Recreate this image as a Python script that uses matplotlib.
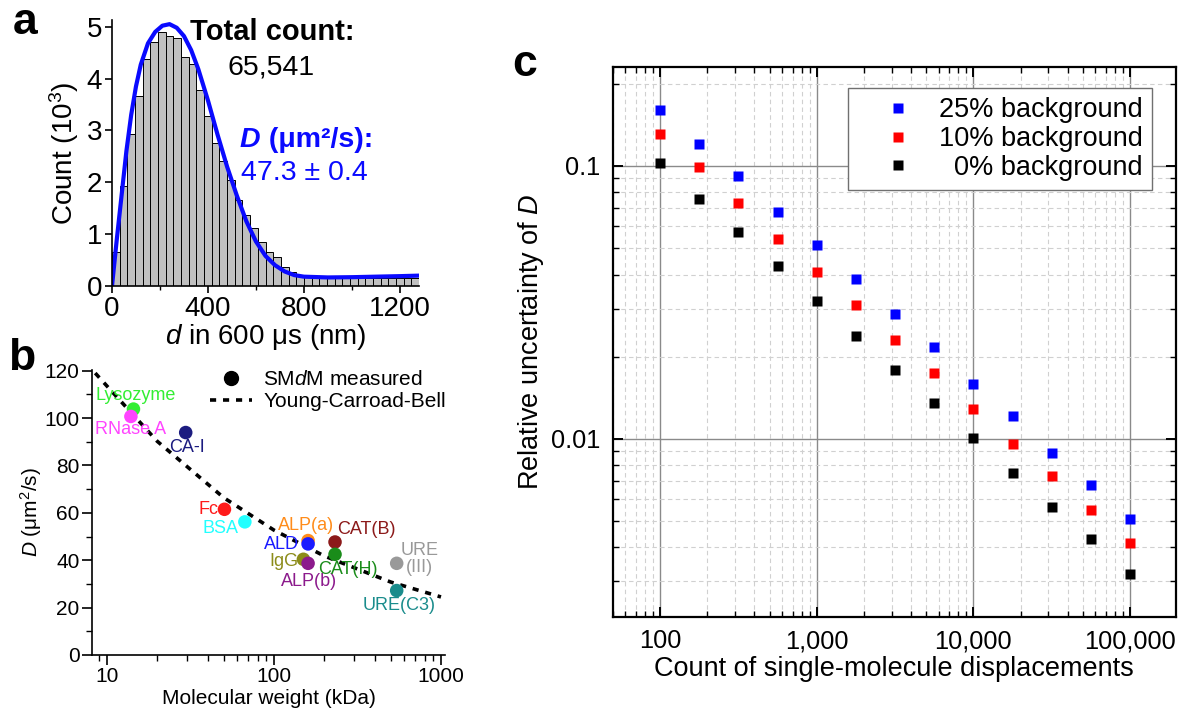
import matplotlib
matplotlib.use("Agg")
import matplotlib.pyplot as plt
from matplotlib.ticker import MultipleLocator, NullFormatter, LogLocator, FixedLocator, FixedFormatter
from matplotlib.lines import Line2D

plt.rcParams['font.family'] = ['Liberation Sans', 'DejaVu Sans']
plt.rcParams['mathtext.fontset'] = 'custom'
plt.rcParams['mathtext.rm'] = 'Liberation Sans'
plt.rcParams['mathtext.it'] = 'Liberation Sans:italic'
plt.rcParams['mathtext.bf'] = 'Liberation Sans:bold'

# ---- panel a: displacement histogram (counts in 10^3, 32 nm bins from 0) ----
bin_width = 32
hist_counts = [0.66, 1.93, 2.94, 3.67, 4.37, 4.71, 4.90, 4.83, 4.79, 4.42,
               4.29, 3.78, 3.28, 2.75, 2.41, 2.04, 1.65, 1.36, 1.11, 0.85,
               0.66, 0.55, 0.37, 0.27, 0.22, 0.17, 0.16, 0.16, 0.15, 0.15,
               0.15, 0.15, 0.15, 0.15, 0.15, 0.15, 0.16, 0.16, 0.16, 0.16]
fit_d = [0, 20, 40, 60, 80, 100, 120, 150, 180, 210, 240, 270, 300, 330, 360,
         400, 440, 480, 520, 560, 600, 640, 680, 720, 760, 800, 900, 1000,
         1100, 1200, 1280]
fit_count = [0, 0.9, 1.75, 2.6, 3.3, 3.85, 4.27, 4.68, 4.9, 5.02, 5.05, 4.98,
             4.82, 4.55, 4.18, 3.58, 2.92, 2.3, 1.75, 1.25, 0.86, 0.58, 0.4,
             0.28, 0.21, 0.18, 0.165, 0.17, 0.18, 0.19, 0.2]
total_count = "65,541"
d_fit_text = "47.3 ± 0.4"

# ---- panel b: D vs molecular weight ----
proteins = ["Lysozyme", "RNase A", "CA-I", "Fc", "BSA", "ALP(a)", "ALD", "IgG",
            "ALP(b)", "CAT(B)", "CAT(H)", "URE\n(III)", "URE(C3)"]
mw_kda = [14.4, 13.9, 29.6, 50.5, 66.9, 160, 160, 150, 160, 232, 232, 543, 543]
d_measured = [103.8, 100.7, 93.9, 61.5, 56.2, 48.3, 46.9, 40.4, 38.7, 47.7,
              42.5, 38.7, 27.2]
protein_colors = ["#33ee33", "#ff44ff", "#1c1c80", "#ff1a1a", "#22ffff",
                  "#ff8c1a", "#1a1aff", "#8c8c1a", "#8c1a8c", "#8c1a1a",
                  "#1a8c1a", "#999999", "#1a8c8c"]
ycb_mw = [8.5, 10, 20, 50, 100, 200, 500, 1000]
ycb_d = [119, 113.5, 90.2, 66.4, 52.7, 41.8, 30.8, 24.5]

# ---- panel c: relative uncertainty vs number of displacements ----
n_disp = [100, 178, 316, 562, 1000, 1778, 3162, 5623, 10000, 17783, 31623,
          56234, 100000]
unc_25 = [0.161, 0.1205, 0.0919, 0.0678, 0.0514, 0.0385, 0.0286, 0.0216,
          0.0159, 0.01215, 0.00883, 0.00676, 0.00507]
unc_10 = [0.1311, 0.0994, 0.0733, 0.0538, 0.0409, 0.0308, 0.0231, 0.0174,
          0.01285, 0.00956, 0.00733, 0.00547, 0.00414]
unc_0 = [0.1023, 0.0757, 0.0571, 0.0429, 0.0321, 0.0239, 0.0179, 0.01353,
         0.01006, 0.0075, 0.00564, 0.00428, 0.00318]
c_xticks = [100, 1000, 10000, 100000]
c_xticklabels = ["100", "1,000", "10,000", "100,000"]
c_yticks = [0.01, 0.1]
c_yticklabels = ["0.01", "0.1"]

W, H = 1179, 710


def fpos(x, y):
    # pixel position in the picture -> figure fraction
    return x / W, 1 - y / H


def rect(left, top, right, bottom):
    return [left / W, 1 - bottom / H, (right - left) / W, (bottom - top) / H]


fig = plt.figure(figsize=(W / 100, H / 100), dpi=100)

# ================= panel a =================
ax_a = fig.add_axes(rect(112, 20, 419, 286))
lefts = [i * bin_width for i in range(len(hist_counts))]
ax_a.bar(lefts, hist_counts, width=bin_width, align='edge', color='#c0c0c0',
         edgecolor='black', linewidth=0.7)
ax_a.plot(fit_d, fit_count, color='#0a0aff', lw=3, solid_capstyle='round')
ax_a.set_xlim(0, 1280)
ax_a.set_ylim(0, 5.13)
ax_a.xaxis.set_major_locator(MultipleLocator(400))
ax_a.xaxis.set_minor_locator(MultipleLocator(200))
ax_a.yaxis.set_major_locator(MultipleLocator(1))
for s in ['top', 'right']:
    ax_a.spines[s].set_visible(False)
for s in ['left', 'bottom']:
    ax_a.spines[s].set_linewidth(1.2)
ax_a.tick_params(which='major', direction='out', length=5, width=1.2,
                 labelsize=20, pad=2)
ax_a.tick_params(which='minor', direction='out', length=3, width=1.0)
ax_a.set_ylabel("Count (10$^3$)", fontsize=20, labelpad=4)
ax_a.set_xlabel("$d$ in 600 μs (nm)", fontsize=20, labelpad=0)

fig.text(*fpos(272, 32), "Total count:", fontsize=21, fontweight='bold',
         ha='center', va='center')
fig.text(*fpos(271, 68), total_count, fontsize=20.5, ha='center', va='center')
t_d = fig.text(*fpos(240, 140), "D", fontsize=20.5, fontweight='bold',
               fontstyle='italic', color='#0a0aff', ha='left', va='center')
ax_a.annotate(" (μm²/s):", xy=(1, 0), xycoords=t_d, va='bottom', ha='left',
              fontsize=20.5, fontweight='bold', color='#0a0aff',
              annotation_clip=False)
fig.text(*fpos(304, 173), d_fit_text, fontsize=20.5, color='#0a0aff',
         ha='center', va='center')

# ================= panel b =================
ax_b = fig.add_axes(rect(92, 370, 445, 655))
ax_b.plot(ycb_mw, ycb_d, color='black', lw=2.6, linestyle=(0, (1.7, 1.9)),
          zorder=2)
ax_b.scatter(mw_kda, d_measured, s=95, c=protein_colors, zorder=3,
             edgecolors='none')
ax_b.set_xscale('log')
ax_b.set_xlim(8.13, 1057)
ax_b.set_ylim(0, 120.3)
ax_b.yaxis.set_major_locator(MultipleLocator(20))
ax_b.yaxis.set_minor_locator(MultipleLocator(10))
ax_b.xaxis.set_major_locator(FixedLocator([10, 100, 1000]))
ax_b.xaxis.set_major_formatter(FixedFormatter(["10", "100", "1000"]))
ax_b.xaxis.set_minor_locator(LogLocator(base=10, subs=range(2, 10)))
ax_b.xaxis.set_minor_formatter(NullFormatter())
for s in ['top', 'right']:
    ax_b.spines[s].set_visible(False)
for s in ['left', 'bottom']:
    ax_b.spines[s].set_linewidth(1.2)
ax_b.tick_params(which='major', direction='out', length=7, width=1.2,
                 labelsize=15, pad=2)
ax_b.tick_params(which='minor', direction='out', length=4, width=1.0)
ax_b.set_ylabel("$D$ (μm$^2$/s)", fontsize=15, labelpad=0)
ax_b.set_xlabel("Molecular weight (kDa)", fontsize=15, labelpad=2)

# label offsets in pixels (dx, dy up) and alignment
label_style = {
    "Lysozyme": (2, 14, 'center'),
    "RNase A": (0, -13, 'center'),
    "CA-I": (1, -15, 'center'),
    "Fc": (-6, 0, 'right'),
    "BSA": (-6, -7, 'right'),
    "ALP(a)": (-2, 15, 'center'),
    "ALD": (-9, -1, 'right'),
    "IgG": (-5, -2, 'right'),
    "ALP(b)": (1, -18, 'center'),
    "CAT(B)": (2, 12, 'left'),
    "CAT(H)": (13, -15, 'center'),
    "URE\n(III)": (23, 4, 'center'),
    "URE(C3)": (2, -15, 'center'),
}
for name, mw, d, col in zip(proteins, mw_kda, d_measured, protein_colors):
    dx, dy, ha = label_style[name]
    ax_b.annotate(name, xy=(mw, d), xytext=(dx, dy), textcoords='offset pixels',
                  ha=ha, va='center', color=col, fontsize=13,
                  linespacing=1.0, zorder=4)

leg_handles = [
    Line2D([], [], marker='o', color='black', linestyle='none', markersize=10),
    Line2D([], [], color='black', lw=2.6, linestyle=(0, (1.7, 1.9))),
]
ax_b.legend(leg_handles, ["SM$d$M measured", "Young-Carroad-Bell"],
            loc='upper left', bbox_to_anchor=fpos(210, 370),
            bbox_transform=fig.transFigure, frameon=False, fontsize=15,
            handlelength=2.0, handletextpad=0.55, borderpad=0,
            borderaxespad=0, labelspacing=0.15)

# ================= panel c =================
ax_c = fig.add_axes(rect(613, 67, 1175.5, 617))
ax_c.set_xscale('log')
ax_c.set_yscale('log')
ax_c.set_xlim(50, 1.95e5)
ax_c.set_ylim(0.00222, 0.2306)
ax_c.grid(which='major', color='#8a8a8a', lw=1.0, linestyle='-')
ax_c.grid(which='minor', color='#d0d0d0', lw=0.8, linestyle=(0, (4, 3)))
ax_c.set_axisbelow(True)
ms = 7
ax_c.plot(n_disp, unc_25, 's', color='#0000ff', markersize=ms, mec='none',
          label='25% background', zorder=3)
ax_c.plot(n_disp, unc_10, 's', color='#ff0000', markersize=ms, mec='none',
          label='10% background', zorder=3)
ax_c.plot(n_disp, unc_0, 's', color='black', markersize=ms, mec='none',
          label='  0% background', zorder=3)
ax_c.xaxis.set_major_locator(FixedLocator(c_xticks))
ax_c.xaxis.set_major_formatter(FixedFormatter(c_xticklabels))
ax_c.yaxis.set_major_locator(FixedLocator(c_yticks))
ax_c.yaxis.set_major_formatter(FixedFormatter(c_yticklabels))
for axis in (ax_c.xaxis, ax_c.yaxis):
    axis.set_minor_locator(LogLocator(base=10, subs=range(2, 10), numticks=20))
    axis.set_minor_formatter(NullFormatter())
for s in ax_c.spines.values():
    s.set_linewidth(1.6)
ax_c.tick_params(which='both', direction='in', top=True, right=True)
ax_c.tick_params(which='major', length=7, width=1.4, labelsize=18.3, pad=9)
ax_c.tick_params(which='minor', length=4, width=1.0)
ax_c.set_xlabel("Count of single-molecule displacements", fontsize=19.5,
                labelpad=2)
ax_c.set_ylabel("Relative uncertainty of $D$", fontsize=19.5, labelpad=4)
leg = ax_c.legend(loc='upper right', bbox_to_anchor=fpos(1152, 88),
                  bbox_transform=fig.transFigure, fontsize=19.5,
                  fancybox=False, framealpha=1, edgecolor='#707070',
                  handlelength=3.0, handletextpad=0.0, borderpad=0.35,
                  borderaxespad=0, labelspacing=0.1)
leg.get_frame().set_linewidth(1.0)

# panel letters
fig.text(*fpos(25, 22), "a", fontsize=32, fontweight='bold', ha='center',
         va='center')
fig.text(*fpos(22, 358), "b", fontsize=32, fontweight='bold', ha='center',
         va='center')
fig.text(*fpos(525, 64), "c", fontsize=32, fontweight='bold', ha='center',
         va='center')

fig.savefig("out.png", dpi=100)
